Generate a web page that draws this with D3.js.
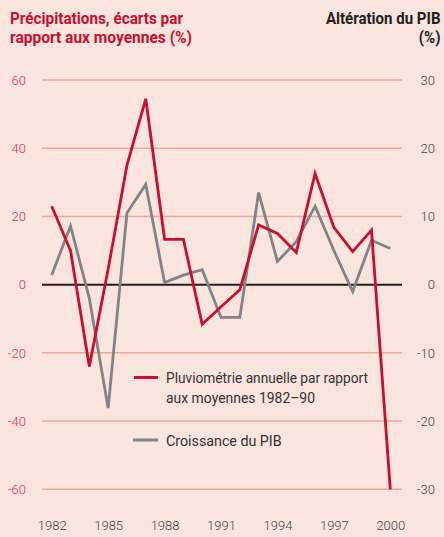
<!DOCTYPE html>
<html>
<head>
<meta charset="utf-8">
<script src="https://cdn.jsdelivr.net/npm/d3@7"></script>
<style>
  body { margin: 0; background: #f9e4de; }
  svg { display: block; }
  text { font-family: Roboto, "Liberation Sans", sans-serif; }
</style>
</head>
<body>
<div id="chart"></div>
<script>
// data
var years = [1982, 1983, 1984, 1985, 1986, 1987, 1988, 1989, 1990, 1991,
             1992, 1993, 1994, 1995, 1996, 1997, 1998, 1999, 2000];
var rainfall = [23, 10, -24, 4.5, 35, 54.5, 13.3, 13.3, -11.6, -6.5,
                -1.5, 17.5, 15, 9.4, 32.6, 16.8, 9.7, 16, -60];
var gdpGrowth = [1.4, 8.6, -2, -18.1, 10.5, 14.7, 0.3, 1.4, 2.2, -4.8,
                 -4.8, 13.5, 3.4, 6.3, 11.5, 5, -1, 6.5, 5.3];
var leftTicks = [-60, -40, -20, 0, 20, 40, 60];
var rightTicks = [-30, -20, -10, 0, 10, 20, 30];
var xTicks = [1982, 1985, 1988, 1991, 1994, 1997, 2000];

var width = 444, height = 537;
var plotLeft = 42, plotRight = 402;
var red = '#c8102e', grey = '#808487';
var plainNum = function(d) { return String(d); };  // hyphen, not unicode minus

var svg = d3.select('#chart').append('svg')
  .attr('width', width)
  .attr('height', height);

svg.append('rect').attr('width', width).attr('height', height).attr('fill', '#f9e4de');

var x = d3.scaleLinear().domain([1982, 2000]).range([51.7, 390.3]);
var yL = d3.scaleLinear().domain([-60, 60]).range([489.3, 80]);
var yR = d3.scaleLinear().domain([-30, 30]).range([489.3, 80]);

// gridlines
svg.append('g').selectAll('line')
  .data(leftTicks.filter(function(d) { return d !== 0; }))
  .enter().append('line')
  .attr('x1', plotLeft).attr('x2', plotRight)
  .attr('y1', function(d) { return yL(d); })
  .attr('y2', function(d) { return yL(d); })
  .attr('stroke', '#eca99e')
  .attr('stroke-width', 1.5);

// left axis
var leftAxis = svg.append('g')
  .attr('transform', 'translate(26,0)')
  .call(d3.axisLeft(yL).tickValues(leftTicks).tickFormat(plainNum).tickSize(0).tickPadding(0));
leftAxis.select('.domain').remove();
leftAxis.selectAll('text')
  .attr('fill', '#d2364f')
  .style('font-size', '13px')
  .style('font-family', 'Roboto, sans-serif')
  .style('font-weight', 300);

// right axis
var rightAxis = svg.append('g')
  .attr('transform', 'translate(435,0)')
  .call(d3.axisLeft(yR).tickValues(rightTicks).tickFormat(plainNum).tickSize(0).tickPadding(0));
rightAxis.select('.domain').remove();
rightAxis.selectAll('text')
  .attr('fill', '#444')
  .style('font-size', '13px')
  .style('font-family', 'Roboto, sans-serif')
  .style('font-weight', 300);

// x axis
var xAxis = svg.append('g')
  .attr('transform', 'translate(0,521)')
  .call(d3.axisBottom(x).tickValues(xTicks).tickFormat(d3.format('d')).tickSize(0).tickPadding(0));
xAxis.select('.domain').remove();
xAxis.selectAll('text')
  .attr('fill', '#444')
  .style('font-size', '13px')
  .style('font-family', 'Roboto, sans-serif')
  .style('font-weight', 300);

// zero line
svg.append('line')
  .attr('x1', plotLeft).attr('x2', plotRight)
  .attr('y1', yL(0)).attr('y2', yL(0))
  .attr('stroke', '#231f20')
  .attr('stroke-width', 2);

// lines
var gdpLine = d3.line()
  .x(function(d, i) { return x(years[i]); })
  .y(function(d) { return yR(d); });
var rainLine = d3.line()
  .x(function(d, i) { return x(years[i]); })
  .y(function(d) { return yL(d); });

svg.append('path').datum(gdpGrowth)
  .attr('d', gdpLine)
  .attr('fill', 'none')
  .attr('stroke', grey)
  .attr('stroke-width', 2.8);

svg.append('path').datum(rainfall)
  .attr('d', rainLine)
  .attr('fill', 'none')
  .attr('stroke', red)
  .attr('stroke-width', 2.8);

// squeeze text into the condensed widths of the original
function fit(sel, w) {
  sel.attr('textLength', w).attr('lengthAdjust', 'spacingAndGlyphs');
  return sel;
}

// titles
var tStyle = function(sel) {
  return sel.style('font-weight', 'bold').style('font-size', '16px');
};
tStyle(fit(svg.append('text').attr('x', 10).attr('y', 24).attr('fill', red), 173))
  .text('Précipitations, écarts par');
tStyle(fit(svg.append('text').attr('x', 10).attr('y', 43).attr('fill', red), 182))
  .text('rapport aux moyennes (%)');

// right title: condensed with a horizontal scale so its box stays on the page
var rt = svg.append('g').attr('transform', 'translate(440.5,0) scale(0.94,1)');
tStyle(rt.append('text').attr('x', 0).attr('y', 24).attr('text-anchor', 'end').attr('fill', '#231f20'))
  .text('Altération du PIB');
tStyle(rt.append('text').attr('x', 0).attr('y', 43).attr('text-anchor', 'end').attr('fill', '#231f20'))
  .text('(%)');

// legend
var legend = svg.append('g');
legend.append('line')
  .attr('x1', 134).attr('x2', 158).attr('y1', 377.5).attr('y2', 377.5)
  .attr('stroke', red).attr('stroke-width', 3);
var lStyle = function(sel) {
  return sel.attr('fill', '#333').style('font-size', '15px');
};
lStyle(fit(legend.append('text').attr('x', 166).attr('y', 383), 202))
  .text('Pluviométrie annuelle par rapport');
lStyle(fit(legend.append('text').attr('x', 166).attr('y', 403), 149))
  .text('aux moyennes 1982–90');
legend.append('line')
  .attr('x1', 133).attr('x2', 158).attr('y1', 440).attr('y2', 440)
  .attr('stroke', grey).attr('stroke-width', 3);
lStyle(fit(legend.append('text').attr('x', 166).attr('y', 445.5), 115.6))
  .text('Croissance du PIB');
</script>
</body>
</html>
